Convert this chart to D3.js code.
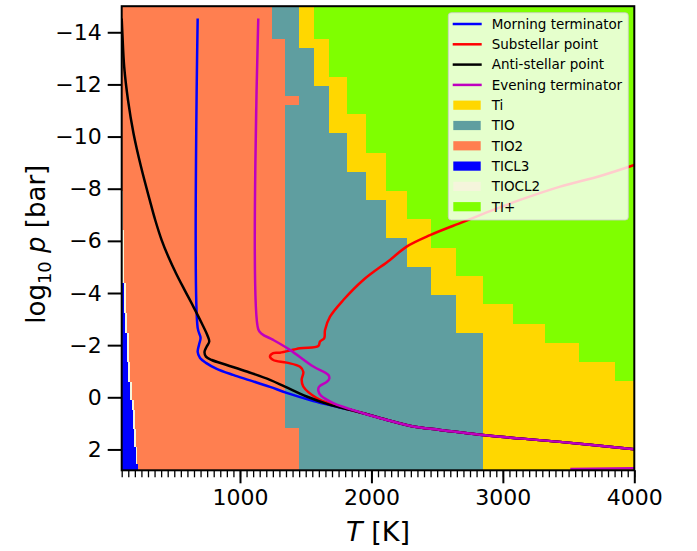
<!DOCTYPE html>
<html><head><meta charset="utf-8">
<script src="https://cdn.jsdelivr.net/npm/d3@7"></script>
<style>
body{margin:0;background:#fff;}
svg{display:block;font-family:"DejaVu Sans",sans-serif;}
</style>
</head><body>
<svg id="chart" width="697" height="551"></svg>
<script>
// ---------------- data ----------------
const xTicks = [1000, 2000, 3000, 4000];
const yTicks = [-14, -12, -10, -8, -6, -4, -2, 0, 2];
const xDomain = [100, 4000];
const yDomain = [-15, 2.8];

const speciesNames  = ["Ti", "TIO", "TIO2", "TICL3", "TIOCL2", "TI+"];
const speciesColors = ["#ffd700", "#5f9ea0", "#ff7f50", "#0000ff", "#f5f5dc", "#7fff00"];

// step boundaries: [log p top, log p bottom, T at which next species begins]
const tiTipBoundary = [
  [-15, -13.76, 1563], [-13.76, -12.29, 1679], [-12.29, -10.85, 1816],
  [-10.85, -9.38, 1959], [-9.38, -7.92, 2111], [-7.92, -6.83, 2268],
  [-6.83, -5.73, 2453], [-5.73, -4.65, 2643], [-4.65, -3.56, 2851],
  [-3.56, -2.83, 3075], [-2.83, -2.10, 3320], [-2.10, -1.37, 3578],
  [-1.37, -0.64, 3852], [-0.64, 2.8, 4000]
];
const tioTiBoundary = [
  [-15, -13.40, 1449], [-13.40, -11.93, 1563], [-11.93, -10.12, 1679],
  [-10.12, -8.66, 1816], [-8.66, -7.57, 1959], [-7.57, -6.10, 2111],
  [-6.10, -5.01, 2268], [-5.01, -3.92, 2453], [-3.92, -2.46, 2643],
  [-2.46, 2.8, 2851]
];
const tio2TioBoundary = [
  [-15, -13.76, 1246], [-13.76, -11.57, 1342], [-11.57, -11.21, 1449],
  [-11.21, 1.18, 1342], [1.18, 2.8, 1449]
];
const tiocl2Edge = [
  [-7.9, -6.4, 112], [-6.4, -4.37, 118], [-4.37, -3.22, 130], [-3.22, -2.45, 140],
  [-2.45, -1.36, 152], [-1.36, -0.59, 165], [-0.59, 0.11, 178], [0.11, 0.49, 190],
  [0.49, 1.2, 198], [1.2, 1.9, 208], [1.9, 2.54, 220], [2.54, 2.8, 226]
];
const ticl3Edge = [
  [-4.37, -3.22, 117], [-3.22, -2.45, 125], [-2.45, -1.36, 138], [-1.36, -0.59, 150],
  [-0.59, 0.11, 163], [0.11, 0.49, 176], [0.49, 1.2, 184], [1.2, 1.9, 194],
  [1.9, 2.54, 209], [2.54, 2.8, 226]
];

// temperature profiles: [T (K), log10 p (bar)]
const morning = [
  [678, -14.53], [678, -2.66], [700, -2.28], [688, -2.01], [678, -1.74], [696, -1.51],
  [741, -1.32], [823, -1.09], [947, -0.86], [1076, -0.65], [1228, -0.40], [1355, -0.17],
  [1558, 0.14], [1761, 0.39], [1938, 0.61], [2141, 0.90], [2318, 1.12], [2522, 1.25],
  [2826, 1.44], [3435, 1.71], [4000, 1.99]
];
const substellar = [
  [4000, -8.91], [3741, -8.49], [3436, -8.08], [3131, -7.57], [2903, -7.14], [2699, -6.73],
  [2446, -6.22], [2268, -5.78], [2141, -5.27], [1938, -4.50], [1786, -3.73], [1685, -3.09],
  [1647, -2.58], [1641, -2.27], [1609, -2.14], [1596, -1.97], [1457, -1.88], [1304, -1.71],
  [1253, -1.69], [1228, -1.56], [1253, -1.43], [1355, -1.33], [1457, -1.17], [1482, -0.97],
  [1469, -0.67], [1482, -0.41], [1584, 0.03], [1710, 0.29], [1837, 0.48], [1938, 0.61],
  [2141, 0.90], [2318, 1.12], [2522, 1.25], [2826, 1.44], [3435, 1.71], [4000, 1.99]
];
const antistellar = [
  [100, -14.53], [105, -13.97], [119, -12.67], [148, -11.40], [190, -10.12], [247, -8.84],
  [313, -7.57], [355, -6.80], [404, -6.03], [455, -5.39], [513, -4.76], [578, -4.12],
  [645, -3.48], [709, -2.84], [751, -2.39], [766, -2.14], [745, -1.93], [730, -1.74],
  [741, -1.56], [785, -1.43], [899, -1.24], [1051, -0.99], [1228, -0.67], [1342, -0.41],
  [1507, -0.03], [1685, 0.29], [1837, 0.48], [1938, 0.61], [2141, 0.90], [2318, 1.12],
  [2522, 1.25], [2826, 1.44], [3435, 1.71], [4000, 1.99]
];
const evening = [
  [1139, -14.53], [1139, -2.61], [1167, -2.43], [1253, -2.20], [1380, -1.82], [1558, -1.18],
  [1672, -0.86], [1679, -0.71], [1660, -0.59], [1601, -0.40], [1596, -0.25], [1616, -0.06],
  [1710, 0.22], [1938, 0.61], [2141, 0.90], [2318, 1.12], [2522, 1.25], [2826, 1.44],
  [3435, 1.71], [4000, 1.99], null, [3513, 2.75], [4000, 2.72]
];
const profileNames  = ["Morning terminator", "Substellar point", "Anti-stellar point", "Evening terminator"];
const profileColors = ["#0000ff", "#ff0000", "#000000", "#bf00bf"];
const profiles = [morning, substellar, antistellar, evening];

// ---------------- drawing ----------------
const svg = d3.select("#chart");
const X0 = 121.7, X1 = 634.3, Y0 = 6.2, Y1 = 470.3;
const xs = d3.scaleLinear().domain(xDomain).range([X0, X1]);
const ys = d3.scaleLinear().domain(yDomain).range([Y0, Y1]);

svg.append("defs").append("clipPath").attr("id", "plotclip")
  .append("rect").attr("x", X0).attr("y", Y0).attr("width", X1 - X0).attr("height", Y1 - Y0);

const plot = svg.append("g").attr("clip-path", "url(#plotclip)");

function stepPath(bounds) {
  const tMin = xDomain[0];
  let p = `M${xs(tMin)},${ys(bounds[0][0])}`;
  bounds.forEach(([a, b, t]) => { p += `L${xs(t)},${ys(a)}L${xs(t)},${ys(b)}`; });
  p += `L${xs(tMin)},${ys(bounds[bounds.length - 1][1])}Z`;
  return p;
}

// base: TI+
plot.append("rect").attr("x", xs(xDomain[0])).attr("y", ys(yDomain[0]))
  .attr("width", xs(xDomain[1]) - xs(xDomain[0])).attr("height", ys(yDomain[1]) - ys(yDomain[0]))
  .attr("fill", speciesColors[5]);
const layers = [
  [tiTipBoundary, speciesColors[0]],
  [tioTiBoundary, speciesColors[1]],
  [tio2TioBoundary, speciesColors[2]],
  [tiocl2Edge, speciesColors[4]],
  [ticl3Edge, speciesColors[3]]
];
layers.forEach(([b, c]) => {
  plot.append("path").attr("d", stepPath(b)).attr("fill", c).attr("shape-rendering", "crispEdges");
});

const line = d3.line().defined(d => d !== null)
  .x(d => xs(d[0])).y(d => ys(d[1])).curve(d3.curveCatmullRom.alpha(0.5));
profiles.forEach((pr, i) => {
  plot.append("path").attr("d", line(pr)).attr("fill", "none")
    .attr("stroke", profileColors[i]).attr("stroke-width", 2.5)
    .attr("stroke-linejoin", "round").attr("stroke-linecap", "butt");
});

// axes
const minorTicks = d3.range(100, 4001, 50);
const xMinor = d3.axisBottom(xs).tickValues(minorTicks).tickSize(7).tickFormat("");
const gxm = svg.append("g").attr("transform", `translate(0,${Y1})`).call(xMinor);
gxm.select(".domain").remove();
gxm.selectAll("line").attr("stroke", "#000").attr("stroke-width", 1.3);

const xAxis = d3.axisBottom(xs).tickValues(xTicks).tickSize(13).tickPadding(6).tickFormat(d3.format("d"));
const gx = svg.append("g").attr("transform", `translate(0,${Y1})`).call(xAxis);
gx.select(".domain").remove();
gx.selectAll("line").attr("stroke", "#000").attr("stroke-width", 2);
gx.selectAll("text").attr("font-size", 22).attr("fill", "#000").attr("font-family", "DejaVu Sans");

const yAxis = d3.axisLeft(ys).tickValues(yTicks).tickSize(14).tickPadding(6).tickFormat(d3.format("d"));
const gy = svg.append("g").attr("transform", `translate(${X0},0)`).call(yAxis);
gy.select(".domain").remove();
gy.selectAll("line").attr("stroke", "#000").attr("stroke-width", 2);
gy.selectAll("text").attr("font-size", 22).attr("fill", "#000").attr("font-family", "DejaVu Sans");

// frame
svg.append("rect").attr("x", X0).attr("y", Y0).attr("width", X1 - X0).attr("height", Y1 - Y0)
  .attr("fill", "none").attr("stroke", "#000").attr("stroke-width", 2);

// axis labels
const xl = svg.append("text").attr("x", (X0 + X1) / 2).attr("y", 541)
  .attr("text-anchor", "middle").attr("font-size", 27).attr("fill", "#000");
xl.append("tspan").attr("font-style", "italic").text("T");
xl.append("tspan").text(" [K]");

const yl = svg.append("text").attr("transform", `translate(45,${(Y0 + Y1) / 2 + 6}) rotate(-90)`)
  .attr("text-anchor", "middle").attr("font-size", 26).attr("fill", "#000");
yl.append("tspan").text("log");
yl.append("tspan").attr("font-size", 18).attr("dy", 6).text("10");
yl.append("tspan").attr("dy", -6).text(" ");
yl.append("tspan").attr("font-style", "italic").text("p");
yl.append("tspan").text(" [bar]");

// legend
const lg = svg.append("g");
lg.append("rect").attr("x", 448.3).attr("y", 12.7).attr("width", 180).attr("height", 207.3)
  .attr("rx", 3).attr("fill", "#fff").attr("fill-opacity", 0.8)
  .attr("stroke", "#cccccc").attr("stroke-opacity", 0.8).attr("stroke-width", 1);
const legendItems = profileNames.map((n, i) => ({name: n, color: profileColors[i], type: "line"}))
  .concat(speciesNames.map((n, i) => ({name: n, color: speciesColors[i], type: "patch"})));
legendItems.forEach((it, i) => {
  const cy = 24 + i * 20.3;
  if (it.type === "line") {
    lg.append("line").attr("x1", 452.7).attr("x2", 481.7).attr("y1", cy).attr("y2", cy)
      .attr("stroke", it.color).attr("stroke-width", 2.5);
  } else {
    lg.append("rect").attr("x", 453.3).attr("y", cy - 4.6).attr("width", 27.4).attr("height", 9.2)
      .attr("fill", it.color);
  }
  lg.append("text").attr("x", 491.7).attr("y", cy).attr("dy", "0.36em")
    .attr("font-size", 13.5).attr("fill", "#000").text(it.name);
});
</script>
</body></html>
